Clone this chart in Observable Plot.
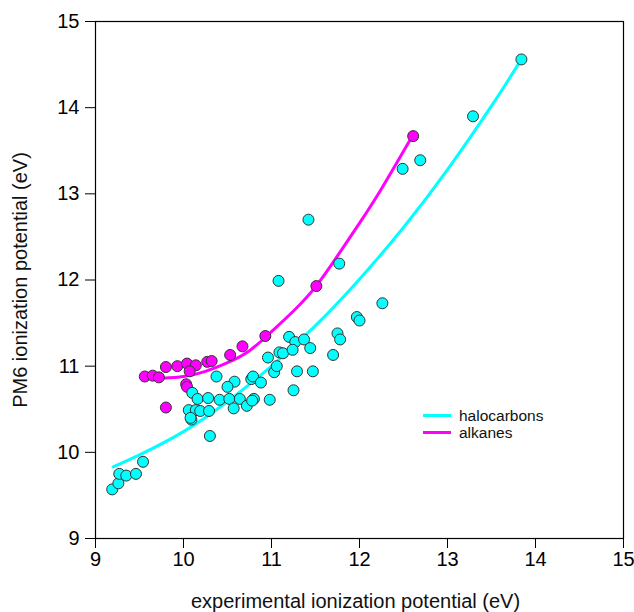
<!DOCTYPE html>
<html>
<head>
<meta charset="utf-8">
<script src="https://cdn.jsdelivr.net/npm/d3@7"></script>
<script src="https://cdn.jsdelivr.net/npm/@observablehq/plot@0.6"></script>
<style>
  html, body { margin: 0; padding: 0; background: #fff; }
  #wrap { position: relative; width: 634px; height: 612px; font-family: "Liberation Sans", Arial, Helvetica, sans-serif; }
  #legend { position: absolute; left: 423px; top: 407px; font-size: 15.5px; line-height: 17px; color: #111; }
  #legend .row { display: flex; align-items: center; }
  #legend .sw { width: 28px; height: 3px; margin-right: 8px; }
</style>
</head>
<body>
<div id="wrap"></div>
<script>
// halocarbons: experimental IP (x) vs PM6 IP (y)
const haloX = [9.19, 9.26, 9.27, 9.35, 9.46, 9.54,
  10.06, 10.14, 10.19, 10.29, 10.09, 10.08, 10.30,
  10.10, 10.16, 10.28, 10.41, 10.52, 10.64, 10.57, 10.72,
  10.375, 10.58, 10.50, 10.77, 10.79, 10.88, 10.80, 10.78, 10.98,
  11.25, 11.29, 11.47, 11.03, 11.06, 10.96, 11.09, 11.13,
  11.20, 11.27, 11.37, 11.24, 11.44, 11.75, 11.78, 11.70,
  11.97, 12.00, 12.26, 11.08, 11.77, 11.42, 12.49, 12.69, 13.29, 13.84];
const haloY = [9.57, 9.64, 9.75, 9.73, 9.75, 9.89,
  10.49, 10.49, 10.48, 10.48, 10.38, 10.40, 10.19,
  10.69, 10.62, 10.63, 10.61, 10.62, 10.62, 10.51, 10.54,
  10.88, 10.82, 10.76, 10.85, 10.88, 10.81, 10.62, 10.60, 10.61,
  10.72, 10.94, 10.94, 10.93, 11.00, 11.10, 11.16, 11.15,
  11.34, 11.28, 11.31, 11.19, 11.21, 11.38, 11.31, 11.13,
  11.57, 11.53, 11.73, 11.99, 12.19, 12.70, 13.29, 13.39, 13.90, 14.56];

// alkanes
const alkX = [9.56, 9.65, 9.72, 9.80, 9.93, 10.04, 10.14, 10.07, 10.27, 10.32,
  10.53, 10.67, 10.93, 10.03, 10.04, 9.80, 11.51, 12.61];
const alkY = [10.88, 10.89, 10.87, 10.99, 11.00, 11.03, 11.01, 10.94, 11.05, 11.06,
  11.13, 11.23, 11.35, 10.79, 10.76, 10.52, 11.93, 13.67];

// fitted curves
const haloFitX = [9.2, 9.5, 10, 10.5, 11, 11.5, 12, 12.5, 13, 13.5, 13.84];
const haloFitY = [9.83, 9.97, 10.24, 10.59, 11.00, 11.47, 12.01, 12.61, 13.28, 14.02, 14.56];
const alkFitX = [9.76, 10.0, 10.25, 10.5, 10.75, 11.0, 11.25, 11.5, 11.75, 12.0, 12.25, 12.6];
const alkFitY = [10.86, 10.88, 10.94, 11.04, 11.18, 11.40, 11.64, 11.92, 12.28, 12.66, 13.06, 13.67];

const xTicks = [9, 10, 11, 12, 13, 14, 15];
const yTicks = [9, 10, 11, 12, 13, 14, 15];
const seriesNames = ["halocarbons", "alkanes"];
const seriesColors = ["#00ffff", "#ff00ff"];

const halo = haloX.map((x, i) => ({x, y: haloY[i]}));
const alk = alkX.map((x, i) => ({x, y: alkY[i]}));
const haloFit = haloFitX.map((x, i) => ({x, y: haloFitY[i]}));
const alkFit = alkFitX.map((x, i) => ({x, y: alkFitY[i]}));

const chart = Plot.plot({
  width: 634,
  height: 612,
  marginLeft: 95,
  marginRight: 11,
  marginTop: 21,
  marginBottom: 74,
  x: {domain: [9, 15]},
  y: {domain: [9, 15]},
  style: {fontFamily: "'Liberation Sans', Arial, Helvetica, sans-serif", fontSize: "20px", color: "#000", background: "#fff"},
  marks: [
    Plot.frame({stroke: "#000", strokeWidth: 1.2}),
    Plot.axisX({ticks: xTicks, tickSize: 10, tickPadding: 3, label: null, fontSize: 20, tickFormat: d => d}),
    Plot.axisY({ticks: yTicks, tickSize: 10, tickPadding: 6, label: null, fontSize: 20, tickFormat: d => d}),
    Plot.line(haloFit, {x: "x", y: "y", stroke: seriesColors[0], strokeWidth: 3, curve: "natural"}),
    Plot.line(alkFit, {x: "x", y: "y", stroke: seriesColors[1], strokeWidth: 3, curve: "natural"}),
    Plot.dot(alk, {x: "x", y: "y", r: 5.5, fill: seriesColors[1], stroke: "#333", strokeWidth: 1}),
    Plot.dot(halo, {x: "x", y: "y", r: 5.5, fill: seriesColors[0], stroke: "#333", strokeWidth: 1}),
    Plot.text(["experimental ionization potential (eV)"], {frameAnchor: "bottom", dy: 63, dx: -4, textAnchor: "middle", lineAnchor: "middle", fontSize: 20, fill: "#111"}),
    Plot.text(["PM6 ionization potential (eV)"], {frameAnchor: "left", dx: -75, rotate: -90, textAnchor: "middle", lineAnchor: "middle", fontSize: 20, fill: "#111"})
  ]
});

const wrap = document.getElementById("wrap");
wrap.appendChild(chart);
const legend = document.createElement("div");
legend.id = "legend";
seriesNames.forEach((name, i) => {
  const row = document.createElement("div");
  row.className = "row";
  const sw = document.createElement("span");
  sw.className = "sw";
  sw.style.background = seriesColors[i];
  const label = document.createElement("span");
  label.textContent = name;
  row.appendChild(sw);
  row.appendChild(label);
  legend.appendChild(row);
});
wrap.appendChild(legend);
</script>
</body>
</html>
